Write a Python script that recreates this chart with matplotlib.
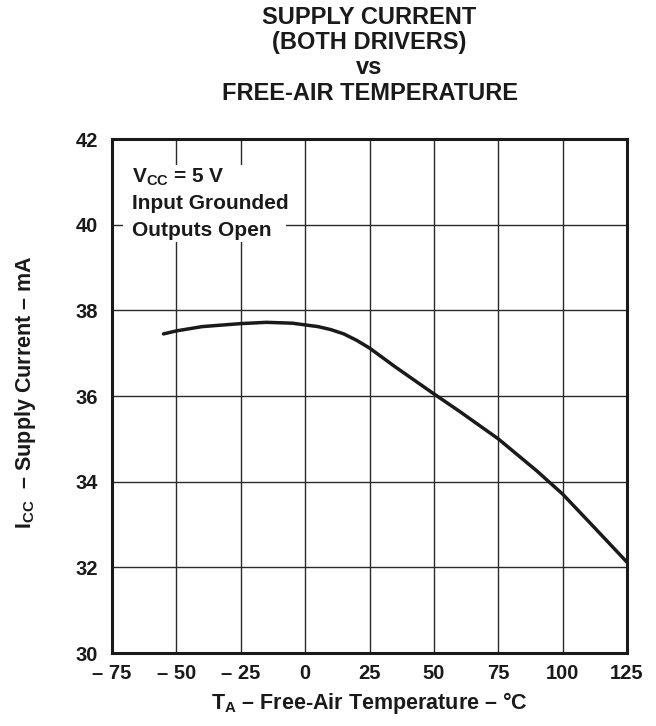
import matplotlib
matplotlib.use("Agg")
import matplotlib.pyplot as plt
from matplotlib.patches import Rectangle

plt.rcParams['font.family'] = ['Liberation Sans', 'DejaVu Sans']
plt.rcParams['font.weight'] = 'bold'
plt.rcParams['mathtext.fontset'] = 'custom'
plt.rcParams['mathtext.rm'] = 'Liberation Sans:bold'
plt.rcParams['mathtext.bf'] = 'Liberation Sans:bold'
plt.rcParams['mathtext.it'] = 'Liberation Sans:bold'

# Data
temperature_c = [-55, -50, -40, -25, -15, -5, 0, 5, 10, 15, 20, 25, 35, 50, 60, 75, 90, 100, 112, 125]
supply_current_ma = [37.45, 37.52, 37.62, 37.69, 37.72, 37.70, 37.66, 37.62, 37.55, 37.45, 37.30, 37.12,
                     36.68, 36.05, 35.64, 35.00, 34.25, 33.71, 32.95, 32.12]

x_ticks = [-75, -50, -25, 0, 25, 50, 75, 100, 125]
x_tick_labels = ['\u2013 75', '\u2013 50', '\u2013 25', '0', '25', '50', '75', '100', '125']
y_ticks = [30, 32, 34, 36, 38, 40, 42]
y_tick_labels = ['30', '32', '34', '36', '38', '40', '42']

title_lines = ['SUPPLY CURRENT', '(BOTH DRIVERS)', 'vs', 'FREE-AIR TEMPERATURE']
condition_lines = [r'$\mathregular{V_{CC}}$ = 5 V', 'Input Grounded', 'Outputs Open']

fig = plt.figure(figsize=(6.56, 7.26), dpi=100)
ax = fig.add_axes([112/656, 73/726, 515/656, 514/726])

ax.set_xlim(-75, 125)
ax.set_ylim(30, 42)
ax.set_xticks(x_ticks)
ax.set_xticklabels(x_tick_labels)
ax.set_yticks(y_ticks)
ax.set_yticklabels(y_tick_labels)
ax.tick_params(axis='both', length=0, labelsize=14.5, colors='#1a1a1a')
ax.tick_params(axis='x', pad=8)
ax.tick_params(axis='y', pad=10)
for lab in ax.get_xticklabels() + ax.get_yticklabels():
    lab.set_fontweight('bold')

ax.grid(True, color='#2a2a2a', linewidth=1.0)
ax.set_axisbelow(True)
for sp in ax.spines.values():
    sp.set_linewidth(2.2)
    sp.set_color('#1a1a1a')

ax.plot(temperature_c, supply_current_ma, color='#1a1a1a', linewidth=2.5,
        solid_capstyle='round', zorder=3)

# White box behind the condition text
ax.add_patch(Rectangle((-70.7, 39.6), 63.3, 1.79, facecolor='white', edgecolor='none', zorder=2))
baselines = [40.97, 40.37, 39.74]
for line, yb in zip(condition_lines, baselines):
    ax.text(-67.3, yb, line, fontsize=15, fontweight='bold',
            va='baseline', ha='left', color='#1a1a1a', zorder=4)

# Title
cx = (112 + 627) / 2 / 656
for i, line in enumerate(title_lines):
    fig.text(cx, 1 - (18 + 25 * i) / 726, line, fontsize=17, fontweight='bold',
             ha='center', va='center', color='#1a1a1a')

# Axis labels
fig.text(cx, 1 - 703 / 726, r'$\mathregular{T_A}$ ' + '\u2013 Free-Air Temperature \u2013 \u00b0C',
         fontsize=15.5, fontweight='bold', ha='center', va='center', color='#1a1a1a')
fig.text(26 / 656, 1 - 392 / 726, r'$\mathregular{I_{CC}}$  ' + '\u2013 Supply Current \u2013 mA',
         fontsize=15.5, fontweight='bold', ha='center', va='center', rotation=90, color='#1a1a1a')

fig.savefig('out.png', dpi=100)
